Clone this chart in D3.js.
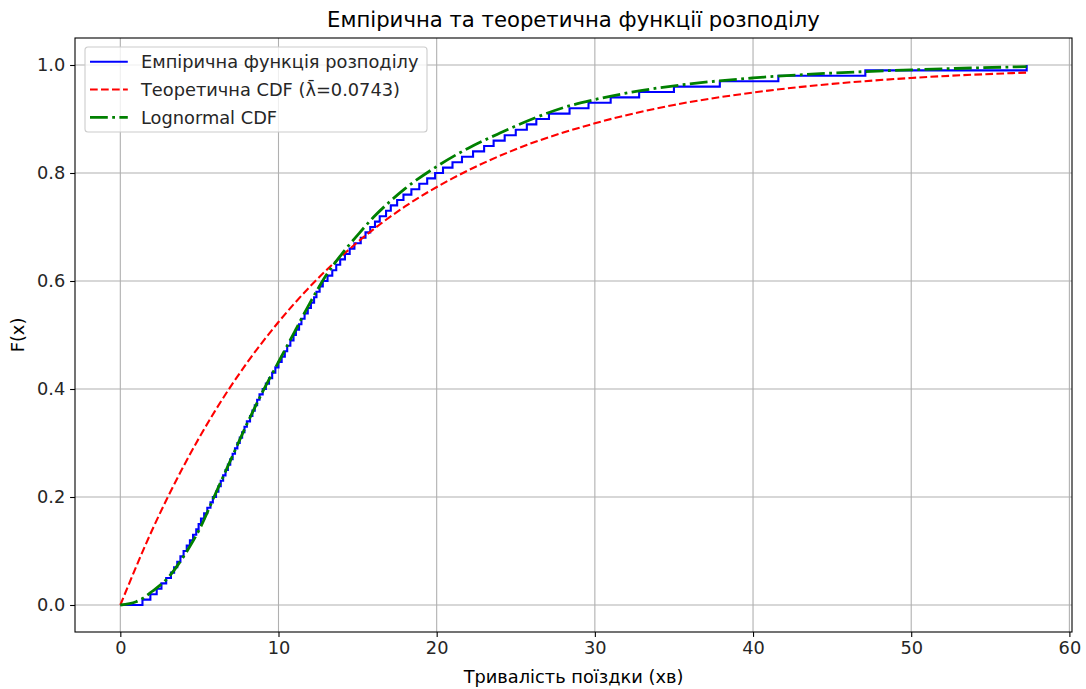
<!DOCTYPE html>
<html>
<head>
<meta charset="utf-8">
<script src="https://cdn.jsdelivr.net/npm/d3@7"></script>
<style>
    body { margin: 0; background: #fff; }
    svg { display: block; font-family: "DejaVu Sans", sans-serif; }
</style>
</head>
<body>
<div id="chart"></div>
<script>
// sorted trip durations (min)
const durations = [
    1.4, 1.9, 2.3, 2.6, 2.9, 3.2, 3.4, 3.6, 3.8, 4.0,
    4.2, 4.4, 4.6, 4.8, 4.95, 5.1, 5.3, 5.5, 5.7, 5.85,
    6.05, 6.2, 6.35, 6.5, 6.65, 6.8, 6.95, 7.1, 7.25, 7.4,
    7.55, 7.7, 7.85, 8.0, 8.2, 8.35, 8.5, 8.65, 8.8, 9.0,
    9.2, 9.4, 9.6, 9.8, 10.0, 10.2, 10.4, 10.55, 10.75, 10.95,
    11.1, 11.3, 11.45, 11.65, 11.85, 12.05, 12.25, 12.4, 12.6, 12.8,
    13.1, 13.4, 13.65, 13.9, 14.2, 14.5, 14.8, 15.2, 15.5, 15.8,
    16.1, 16.4, 16.8, 17.1, 17.5, 17.9, 18.4, 18.9, 19.4, 19.9,
    20.4, 21.0, 21.6, 22.3, 23.0, 23.6, 24.3, 25.0, 25.7, 26.3,
    27.1, 28.4, 29.6, 31.0, 32.8, 35.0, 37.9, 41.6, 47.1, 57.3
];

// exponential CDF, lambda = 0.0743
const expX = [0, 2, 4, 6, 8, 10, 12, 15, 18, 21, 25, 30, 35, 40, 45, 50, 57.3];
const expF = [0, 0.138, 0.257, 0.360, 0.448, 0.524, 0.590, 0.672, 0.738, 0.790, 0.844, 0.892, 0.926, 0.949, 0.965, 0.976, 0.986];

// lognormal CDF
const logX = [0, 1, 1.4, 2, 3, 4, 5, 6, 7, 8, 9, 10, 11, 12, 13, 14, 15, 16, 17, 18, 20, 22, 24, 26.3, 28, 30, 33, 36, 40, 45, 50, 57.3];
const logF = [0, 0.006, 0.012, 0.025, 0.05, 0.09, 0.14, 0.205, 0.27, 0.335, 0.395, 0.45, 0.505, 0.56, 0.61, 0.65, 0.685, 0.718, 0.746, 0.771, 0.812, 0.846, 0.874, 0.903, 0.921, 0.936, 0.953, 0.965, 0.976, 0.985, 0.991, 0.997];

const xTicks = [0, 10, 20, 30, 40, 50, 60];
const yTicks = [0, 0.2, 0.4, 0.6, 0.8, 1.0];

const legendLabels = [
    "Емпірична функція розподілу",
    "Теоретична CDF (λ\u0304=0.0743)",
    "Lognormal CDF"
];

const width = 1086;
const height = 689;
const margin = { left: 75, right: 14, top: 38, bottom: 57 };

const svg = d3.select("#chart")
    .append("svg")
    .attr("width", width)
    .attr("height", height);

const xMax = d3.max(durations);
const x = d3.scaleLinear()
    .domain([-xMax * 0.05, xMax * 1.05])
    .range([margin.left, width - margin.right]);

const y = d3.scaleLinear()
    .domain([-0.05, 1.05])
    .range([height - margin.bottom, margin.top]);

// grid
svg.append("g")
    .selectAll("line")
    .data(xTicks)
    .enter()
    .append("line")
    .attr("x1", d => x(d))
    .attr("x2", d => x(d))
    .attr("y1", margin.top)
    .attr("y2", height - margin.bottom)
    .attr("stroke", "#b0b0b0")
    .attr("stroke-width", 1.1);

svg.append("g")
    .selectAll("line")
    .data(yTicks)
    .enter()
    .append("line")
    .attr("x1", margin.left)
    .attr("x2", width - margin.right)
    .attr("y1", d => y(d))
    .attr("y2", d => y(d))
    .attr("stroke", "#b0b0b0")
    .attr("stroke-width", 1.1);

// empirical step function
const stepData = [{ x: 0, f: 0 }].concat(durations.map((d, i) => ({ x: d, f: (i + 1) / durations.length })));

const plot = svg.append("g");

plot.append("path")
    .datum(stepData)
    .attr("fill", "none")
    .attr("stroke", "blue")
    .attr("stroke-width", 2.1)
    .attr("d", d3.line().x(d => x(d.x)).y(d => y(d.f)).curve(d3.curveStepAfter));

plot.append("path")
    .datum(expX.map((d, i) => ({ x: d, f: expF[i] })))
    .attr("fill", "none")
    .attr("stroke", "red")
    .attr("stroke-width", 2.1)
    .attr("stroke-dasharray", "7.7,3.3")
    .attr("d", d3.line().x(d => x(d.x)).y(d => y(d.f)).curve(d3.curveMonotoneX));

plot.append("path")
    .datum(logX.map((d, i) => ({ x: d, f: logF[i] })))
    .attr("fill", "none")
    .attr("stroke", "green")
    .attr("stroke-width", 2.8)
    .attr("stroke-dasharray", "17.8,4.4,2.8,4.4")
    .attr("d", d3.line().x(d => x(d.x)).y(d => y(d.f)).curve(d3.curveMonotoneX));

// axes
const xAxis = svg.append("g")
    .attr("transform", `translate(0, ${height - margin.bottom})`)
    .call(d3.axisBottom(x).tickValues(xTicks).tickFormat(d3.format("d")).tickSize(4.9).tickPadding(4.9));

const yAxis = svg.append("g")
    .attr("transform", `translate(${margin.left}, 0)`)
    .call(d3.axisLeft(y).tickValues(yTicks).tickFormat(d3.format(".1f")).tickSize(4.9).tickPadding(4.9));

[xAxis, yAxis].forEach(a => {
    a.select(".domain").remove();
    a.selectAll(".tick line").attr("stroke", "#000").attr("stroke-width", 1.1);
    a.selectAll(".tick text")
        .attr("fill", "#262626")
        .style("font-size", "17.8px")
        .style("font-family", "DejaVu Sans, sans-serif");
});

// frame
svg.append("rect")
    .attr("x", margin.left)
    .attr("y", margin.top)
    .attr("width", width - margin.left - margin.right)
    .attr("height", height - margin.top - margin.bottom)
    .attr("fill", "none")
    .attr("stroke", "#000")
    .attr("stroke-width", 1.1);

// labels
svg.append("text")
    .attr("x", (margin.left + width - margin.right) / 2)
    .attr("y", 27)
    .attr("text-anchor", "middle")
    .style("font-size", "21.2px")
    .text("Емпірична та теоретична функції розподілу");

svg.append("text")
    .attr("x", (margin.left + width - margin.right) / 2)
    .attr("y", 683)
    .attr("text-anchor", "middle")
    .style("font-size", "17.8px")
    .text("Тривалість поїздки (хв)");

svg.append("text")
    .attr("transform", `translate(24, ${(margin.top + height - margin.bottom) / 2}) rotate(-90)`)
    .attr("text-anchor", "middle")
    .style("font-size", "17.8px")
    .text("F(x)");

// legend
const legend = svg.append("g")
    .attr("transform", "translate(85, 47)");

legend.append("rect")
    .attr("width", 342)
    .attr("height", 85)
    .attr("rx", 3)
    .attr("fill", "rgba(255,255,255,0.8)")
    .attr("stroke", "#cccccc")
    .attr("stroke-width", 1.1);

const legendStyles = [
    { color: "blue", width: 2.1, dash: null },
    { color: "red", width: 2.1, dash: "7.7,3.3" },
    { color: "green", width: 2.8, dash: "17.8,4.4,2.8,4.4" }
];

const legendItems = legend.selectAll("g.item")
    .data(legendLabels)
    .enter()
    .append("g")
    .attr("class", "item")
    .attr("transform", (d, i) => `translate(0, ${14.7 + i * 27.8})`);

legendItems.append("line")
    .attr("x1", 5)
    .attr("x2", 42.8)
    .attr("stroke", (d, i) => legendStyles[i].color)
    .attr("stroke-width", (d, i) => legendStyles[i].width)
    .attr("stroke-dasharray", (d, i) => legendStyles[i].dash);

legendItems.append("text")
    .attr("x", 56)
    .attr("y", 6.3)
    .style("font-size", "17.8px")
    .attr("fill", "#262626")
    .text(d => d);
</script>
</body>
</html>
